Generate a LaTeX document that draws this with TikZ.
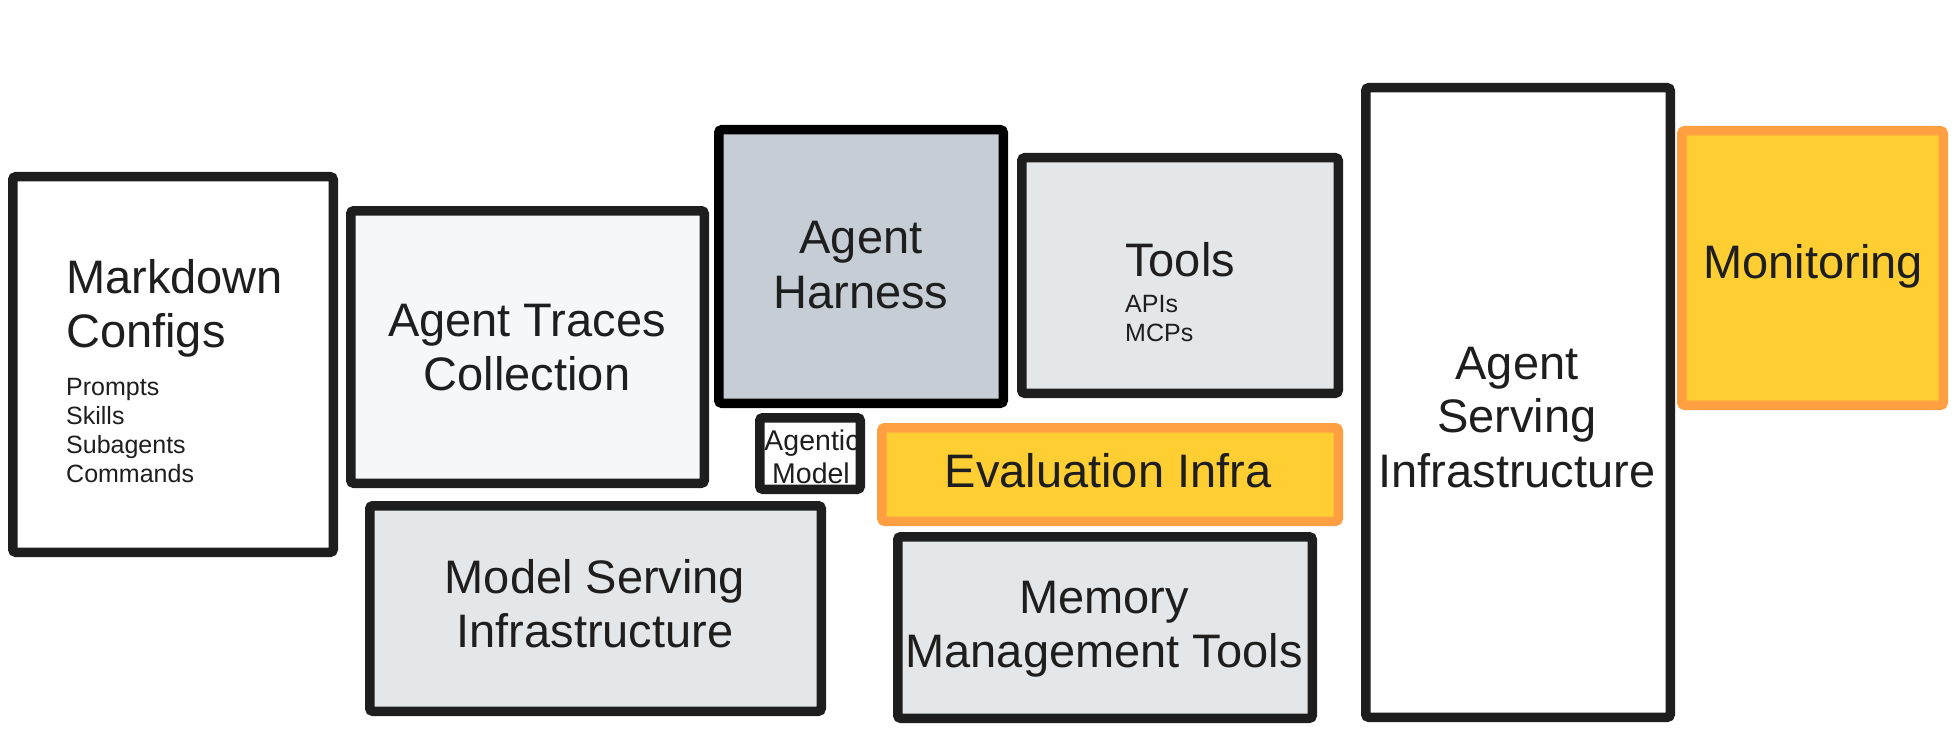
\documentclass[tikz,border=0pt]{standalone}
\usepackage{fontspec}
\setmainfont{Liberation Sans}
\definecolor{bord}{HTML}{1E1E1E}
\definecolor{txt}{HTML}{1E1E1E}
\definecolor{lightA}{HTML}{F6F7F9}
\definecolor{grayB}{HTML}{E4E7EA}
\definecolor{harn}{HTML}{C6CDD5}
\definecolor{yel}{HTML}{FFCE33}
\definecolor{ora}{HTML}{FF9F42}
\tikzset{
  box/.style={draw=bord, line width=9.5pt, rounded corners=3pt, outer sep=0pt, inner sep=0pt},
  hot/.style={box, draw=ora, fill=yel},
  big/.style={text=txt, inner sep=0pt, font=\fontsize{47}{54}\selectfont},
  small/.style={text=txt, inner sep=0pt, font=\fontsize{25}{29}\selectfont},
  tiny/.style={text=txt, inner sep=0pt, font=\fontsize{28.5}{33}\selectfont}
}
\begin{document}
\begin{tikzpicture}[x=1pt,y=-1pt]
\useasboundingbox (0,0) rectangle (1958,746);
% boxes
\node[box, fill=white, minimum width=320.5pt, minimum height=375.5pt] (md) at (173,364.5) {};
\node[box, fill=lightA, minimum width=353.5pt, minimum height=272.5pt] (tr) at (527.5,347) {};
\node[box, draw=black, fill=harn, minimum width=284.5pt, minimum height=273.5pt] (ah) at (861,266.5) {};
\node[box, fill=grayB, minimum width=316.5pt, minimum height=235.5pt] (tools) at (1180,275.5) {};
\node[hot, minimum width=456.5pt, minimum height=93.5pt] (ev) at (1110,474.5) {};
\node[box, fill=grayB, minimum width=451.5pt, minimum height=205.5pt] (ms) at (595.5,608.5) {};
\node[box, fill=grayB, minimum width=414.5pt, minimum height=181.5pt] (mem) at (1105,627.5) {};
\node[box, fill=white, minimum width=304.5pt, minimum height=629.5pt] (as) at (1518,402.5) {};
\node[hot, minimum width=261.5pt, minimum height=274.5pt] (mon) at (1812.5,268) {};
% agentic model: fill, text, then border on top
\node[fill=white, minimum width=100.5pt, minimum height=71.5pt, inner sep=0pt, outer sep=0pt] (am) at (810,453.5) {};
\node[tiny, anchor=base] (am1) at (812,450) {Agentic};
\node[tiny, anchor=base] (am2) at (811,483) {Model};
\draw[box] (am.north west) rectangle (am.south east);
% texts
\node[big, anchor=base west] (md1) at (66,293) {Markdown};
\node[big, anchor=base west] (md2) at (66,347) {Configs};
\node[small, anchor=base west] (md3) at (66,395) {Prompts};
\node[small, anchor=base west] (md4) at (66,424) {Skills};
\node[small, anchor=base west] (md5) at (66,453) {Subagents};
\node[small, anchor=base west] (md6) at (66,482) {Commands};
\node[big, anchor=base] (tr1) at (527,336) {Agent Traces};
\node[big, anchor=base] (tr2) at (527,390) {Collection};
\node[big, anchor=base] (ah1) at (861,253) {Agent};
\node[big, anchor=base] (ah2) at (861,308) {Harness};
\node[big, anchor=base west] (to1) at (1125,276) {Tools};
\node[small, anchor=base west] (to2) at (1125,312) {APIs};
\node[small, anchor=base west] (to3) at (1125,341) {MCPs};
\node[big, anchor=base] (ev1) at (1108,487) {Evaluation Infra};
\node[big, anchor=base] (ms1) at (595,593) {Model Serving};
\node[big, anchor=base] (ms2) at (595,647) {Infrastructure};
\node[big, anchor=base] (me1) at (1104,613) {Memory};
\node[big, anchor=base] (me2) at (1104,667) {Management Tools};
\node[big, anchor=base] (as1) at (1517,379) {Agent};
\node[big, anchor=base] (as2) at (1517,432) {Serving};
\node[big, anchor=base] (as3) at (1517,487) {Infrastructure};
\node[big, anchor=base] (mo1) at (1813,278) {Monitoring};
\end{tikzpicture}
\end{document}
